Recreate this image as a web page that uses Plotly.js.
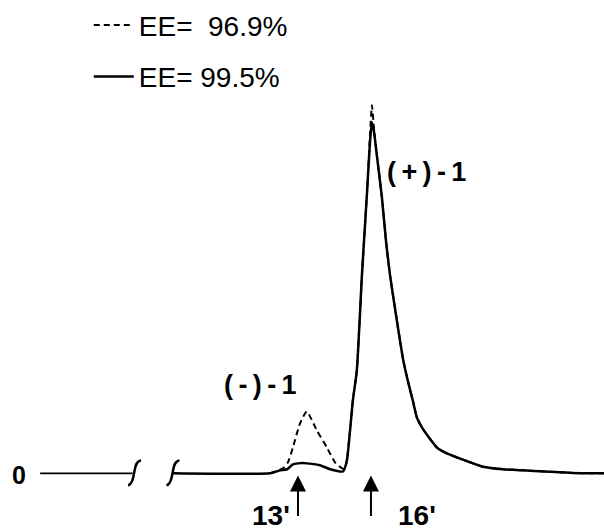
<!DOCTYPE html>
<html>
<head>
<meta charset="utf-8">
<script src="https://cdn.plot.ly/plotly-3.0.1.min.js"></script>
<style>html,body{margin:0;padding:0;background:#fff}#chart{width:604px;height:532px}</style>
</head>
<body>
<div id="chart"></div>
<script>
// ---- data (retention time in minutes, detector signal in relative units) ----
const seriesNames = ["EE=\u00a0 96.9%", "EE= 99.5%"];

const timeDashed = [11.85, 12.38, 12.59, 12.79, 13.08, 13.36, 13.78, 14.19, 14.52, 14.81, 14.92,
  15.01, 15.14, 15.26, 15.42, 15.63, 15.84, 15.96, 16.04, 16.12, 16.25, 16.45, 16.62, 16.78,
  17.03, 17.32, 17.52, 17.73, 17.89, 18.14, 18.71, 19.12, 19.54, 20.07, 20.6, 21.43, 22.25,
  23.15, 24.3, 25.58];
const signalDashed = [0, 1.35, 3.0, 7.0, 13.5, 16.8, 11.6, 7.0, 3.0, 1.35, 1.2,
  3.5, 11.6, 20, 28, 54, 76.5, 92, 100, 94, 86, 75, 63, 54,
  43, 31, 25, 19.5, 15.1, 12, 7.0, 5.4, 4.3, 3.0, 1.8, 1.1, 0.8,
  0.5, 0.1, 0];

const timeSolid = [7.86, 11.85, 12.26, 12.55, 12.79, 13.0, 13.2, 13.37, 13.9, 14.32, 14.85,
  15.01, 15.14, 15.26, 15.42, 15.63, 15.84, 15.96, 16.04, 16.12, 16.25, 16.45, 16.62, 16.78,
  17.03, 17.32, 17.52, 17.73, 17.89, 18.14, 18.71, 19.12, 19.54, 20.07, 20.6, 21.43, 22.25,
  23.15, 24.3, 25.58];
const signalSolid = [0, 0, 0.8, 1.1, 2.4, 2.7, 2.8, 2.7, 2.2, 1.1, 0.5,
  3.5, 11.6, 20, 28, 54, 76.5, 90, 95.4, 93, 86, 75, 63, 54,
  43, 31, 25, 19.5, 15.1, 12, 7.0, 5.4, 4.3, 3.0, 1.8, 1.1, 0.8,
  0.5, 0.1, 0];

// baseline before the axis break
const timeBaseline = [2.40, 6.20];
const signalBaseline = [0, 0];

// axis break positions (minutes)
const breakTimes = [6.26, 7.84];

// marked retention times
const markedTimes = [13, 16];
const markedLabels = ["13'", "16'"];

// peak labels
const peakLabels = ["(\u2009-\u2009)\u2009-\u20091", "(\u2009+\u2009)\u2009-\u20091"];
const peakLabelPos = [[11.45, 24.0], [18.3, 81.9]];

// ---- layout / drawing ----
const XR = [0.75, 25.58], YR = [-15.95, 127.8];
const W = 604, H = 532;
const pxX = (XR[1] - XR[0]) / W;   // minutes per pixel
const pxY = (YR[1] - YR[0]) / H;   // units per pixel

function curlPath(tc) {
  // integral-like break mark, offsets in pixels (dx right, dy down)
  const pts = [[7, -13], [1, -12], [1, -4], [0, 0], [-1, 4], [-1, 11], [-6, 12]];
  const c = pts.map(p => [(tc + p[0] * pxX).toFixed(4), (-p[1] * pxY).toFixed(4)]);
  return `M${c[0][0]},${c[0][1]} C${c[1][0]},${c[1][1]} ${c[2][0]},${c[2][1]} ${c[3][0]},${c[3][1]} ` +
         `C${c[4][0]},${c[4][1]} ${c[5][0]},${c[5][1]} ${c[6][0]},${c[6][1]}`;
}

const FONT = "Liberation Sans, Arial, Helvetica, sans-serif";

const traces = [
  {x: timeDashed, y: signalDashed, name: seriesNames[0], legendgroup: "a", mode: "lines",
   line: {color: "#000", width: 2, dash: "6px,4px", shape: "spline", smoothing: 0.5}},
  {x: timeSolid, y: signalSolid, name: seriesNames[1], legendgroup: "b", mode: "lines",
   line: {color: "#000", width: 2.5, shape: "spline", smoothing: 0.5}},
  {x: timeBaseline, y: signalBaseline, mode: "lines", showlegend: false, hoverinfo: "skip",
   line: {color: "#000", width: 1.8}}
];

const annotations = [];
markedTimes.forEach((t, i) => {
  annotations.push({x: t, y: -0.6, xref: "x", yref: "y", text: "", showarrow: true,
    ax: 0, ay: 42, arrowhead: 2, arrowsize: 1.6, arrowwidth: 2, arrowcolor: "#000"});
});
annotations.push({x: markedTimes[0] - 1.1, y: -11.4, text: "<b>" + markedLabels[0] + "</b>",
  showarrow: false, font: {family: FONT, size: 28, color: "#000"}});
annotations.push({x: markedTimes[1] + 1.9, y: -11.4, text: "<b>" + markedLabels[1] + "</b>",
  showarrow: false, font: {family: FONT, size: 28, color: "#000"}});
peakLabels.forEach((s, i) => {
  annotations.push({x: peakLabelPos[i][0], y: peakLabelPos[i][1], text: "<b>" + s + "</b>",
    showarrow: false, font: {family: FONT, size: 27, color: "#000"}});
});
annotations.push({x: 1.53, y: -0.5, text: "<b>0</b>", showarrow: false,
  font: {family: FONT, size: 25, color: "#000"}});

const shapes = breakTimes.map(t => ({type: "path", xref: "x", yref: "y", path: curlPath(t),
  line: {color: "#000", width: 2.5}}));

const layout = {
  width: W, height: H,
  margin: {l: 0, r: 0, t: 0, b: 0, pad: 0},
  paper_bgcolor: "#fff", plot_bgcolor: "#fff",
  xaxis: {range: XR, visible: false, fixedrange: true},
  yaxis: {range: YR, visible: false, fixedrange: true},
  showlegend: true,
  legend: {x: 0.147, y: 1.005, xanchor: "left", yanchor: "top", bgcolor: "rgba(0,0,0,0)",
    borderwidth: 0, itemwidth: 40, tracegroupgap: 12,
    font: {family: FONT, size: 28, color: "#000"}},
  annotations: annotations,
  shapes: shapes
};

Plotly.newPlot("chart", traces, layout, {staticPlot: true, displayModeBar: false});
</script>
</body>
</html>
